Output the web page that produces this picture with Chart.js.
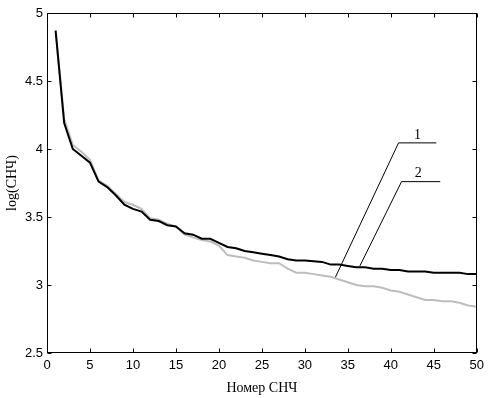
<!DOCTYPE html>
<html>
<head>
<meta charset="utf-8">
<script src="https://cdn.jsdelivr.net/npm/chart.js@4.4.1/dist/chart.umd.min.js"></script>
<style>
body { margin:0; background:#fff; }
</style>
</head>
<body>
<canvas id="myChart" width="489" height="398"></canvas>
<script>
var nums = [1,2,3,4,5,6,7,8,9,10,
11,12,13,14,15,16,17,18,19,20,
21,22,23,24,25,26,27,28,29,30,
31,32,33,34,35,36,37,38,39,40,
41,42,43,44,45,46,47,48,49,50];
var series1 =
[4.87,4.19,4.00,3.95,3.90,3.76,3.72,3.66,3.59,3.56,
3.54,3.48,3.47,3.44,3.43,3.38,3.37,3.34,3.34,3.31,
3.28,3.27,3.25,3.24,3.23,3.22,3.21,3.19,3.18,3.18,
3.175,3.17,3.15,3.15,3.14,3.13,3.13,3.12,3.12,3.11,
3.11,3.10,3.10,3.10,3.09,3.09,3.09,3.09,3.08,3.08];
var series2 =
[4.87,4.22,4.03,3.98,3.92,3.77,3.73,3.67,3.61,3.59,
3.56,3.49,3.48,3.45,3.43,3.37,3.35,3.33,3.32,3.29,
3.22,3.21,3.20,3.18,3.17,3.16,3.16,3.12,3.09,3.09,
3.08,3.07,3.06,3.04,3.02,3.00,2.99,2.99,2.98,2.96,
2.95,2.93,2.91,2.89,2.89,2.88,2.88,2.87,2.85,2.84];
// leader lines for the curve labels
var leader1 = [[33.5,3.05],[40.9,4.045],[45.3,4.045]];
var leader2 = [[36.4,3.14],[41.25,3.76],[45.75,3.76]];
var labelText = ["1","2"];
var labelPos = [[43.1,4.10],[43.2,3.82]];
var xTicks = [0,5,10,15,20,25,30,35,40,45,50];
var yTicks = [2.5,3,3.5,4,4.5,5];

function pts(xs, ys) {
  return xs.map(function(x, i) { return {x:x, y:ys[i]}; });
}
function pairs(a) {
  return a.map(function(p) { return {x:p[0], y:p[1]}; });
}

var framePlugin = {
  id: 'frame',
  afterDraw: function(chart) {
    var c = chart.ctx, a = chart.chartArea;
    var xs = chart.scales.x, ys = chart.scales.y;
    var L = Math.round(a.left)+0.5, R = Math.round(a.right)-0.5;
    var T = Math.round(a.top)+0.5, B = Math.round(a.bottom)-0.5;
    c.save();
    c.strokeStyle = '#000';
    c.lineWidth = 1;
    c.strokeRect(L, T, R-L, B-T);
    c.beginPath();
    xTicks.forEach(function(v) {
      var px = Math.round(xs.getPixelForValue(v))+0.5;
      c.moveTo(px, B); c.lineTo(px, B-4);
      c.moveTo(px, T); c.lineTo(px, T+4);
    });
    yTicks.forEach(function(v) {
      var py = Math.round(ys.getPixelForValue(v))+0.5;
      c.moveTo(L, py); c.lineTo(L+4, py);
      c.moveTo(R, py); c.lineTo(R-4, py);
    });
    c.stroke();
    c.fillStyle = '#000';
    c.font = '14px "Liberation Serif"';
    c.textAlign = 'center';
    c.textBaseline = 'middle';
    labelText.forEach(function(t, i) {
      c.fillText(t, xs.getPixelForValue(labelPos[i][0]), ys.getPixelForValue(labelPos[i][1]));
    });
    c.restore();
  }
};

var ctx = document.getElementById("myChart");
var myChart = new Chart(ctx, {
  type: 'line',
  data: {
    datasets: [
      {
        label: "1",
        data: pts(nums, series1),
        borderColor: '#000',
        borderWidth: 2,
        pointRadius: 0,
        tension: 0
      },
      {
        label: "2",
        data: pts(nums, series2),
        borderColor: '#bdbdbd',
        borderWidth: 2,
        pointRadius: 0,
        tension: 0
      },
      {
        data: pairs(leader1),
        borderColor: '#000',
        borderWidth: 1,
        pointRadius: 0
      },
      {
        data: pairs(leader2),
        borderColor: '#000',
        borderWidth: 1,
        pointRadius: 0
      }
    ]
  },
  options: {
    responsive: false,
    animation: false,
    layout: { padding: { left:0, right:9, top:13, bottom:0 } },
    plugins: { legend: { display:false }, tooltip: { enabled:false } },
    scales: {
      x: {
        type: 'linear',
        min: 0, max: 50,
        afterBuildTicks: function(s) { s.ticks = xTicks.map(function(v){ return {value:v}; }); },
        afterFit: function(s) { s.height = 45; },
        grid: { display:false, drawTicks:false },
        border: { display:false },
        ticks: { padding:5, color:'#000', font:{ family:'"Liberation Sans"', size:13 }, maxRotation:0,
          callback: function(v) { return String(v); } },
        title: { display:true, text:'Номер СНЧ', color:'#000', font:{ family:'"Liberation Serif"', size:14 }, padding:{ top:4, bottom:1 } }
      },
      y: {
        min: 2.5, max: 5,
        afterBuildTicks: function(s) { s.ticks = yTicks.map(function(v){ return {value:v}; }); },
        afterFit: function(s) { s.width = 47; },
        grid: { display:false, drawTicks:false },
        border: { display:false },
        ticks: { padding:4, color:'#000', font:{ family:'"Liberation Sans"', size:13 },
          callback: function(v) { return String(v); } },
        title: { display:true, text:'log(СНЧ)', color:'#000', font:{ family:'"Liberation Serif"', size:14 }, padding:{ top:4, bottom:4 } }
      }
    }
  },
  plugins: [framePlugin]
});
</script>
</body>
</html>
